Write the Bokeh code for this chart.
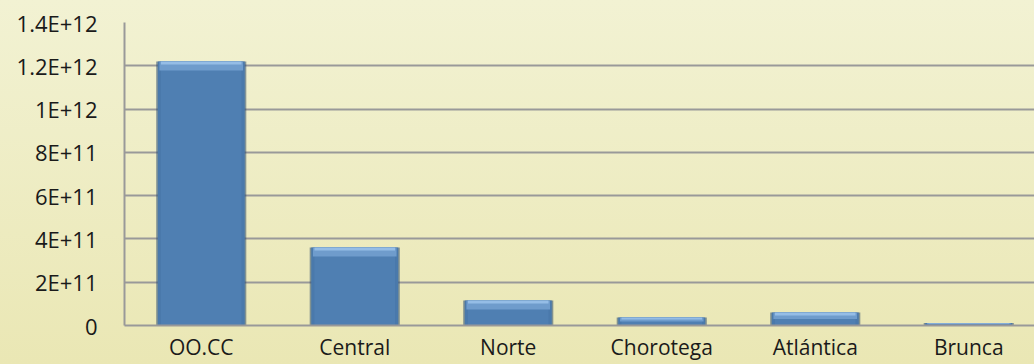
from bokeh.plotting import figure
from bokeh.models import Range1d, FixedTicker, ColumnDataSource
from bokeh.embed import file_html
from bokeh.resources import INLINE

categories = ["OO.CC", "Central", "Norte", "Chorotega", "Atlántica", "Brunca"]
values = [1.22e12, 3.6e11, 1.15e11, 3.7e10, 6.0e10, 1.2e10]
y_ticks = [0, 2e11, 4e11, 6e11, 8e11, 1e12, 1.2e12, 1.4e12]
y_tick_labels = ["0", "2E+11", "4E+11", "6E+11", "8E+11", "1E+12", "1.2E+12", "1.4E+12"]

W, H = 1034, 364
left, top, bottom = 124, 22, 39
step = 153.5
frame_h = H - top - bottom
frame_w = W - left
ymax = 1.4e12
px = ymax / frame_h  # data units per pixel

xs = list(range(len(categories)))
src = ColumnDataSource(dict(
    x=xs,
    top=values,
    hl_bottom=[max(v - 9 * px, v * 0.5) for v in values],
    hl2_bottom=[max(v - 3 * px, v * 0.75) for v in values],
))

p = figure(width=W, height=H, output_backend="svg", toolbar_location=None,
           x_range=Range1d(-0.5, -0.5 + frame_w / step), y_range=Range1d(0, ymax),
           min_border_left=left, min_border_right=0, min_border_top=top,
           min_border_bottom=bottom)
p.styles = {"background": "linear-gradient(#f2f2d3, #eae7b4)"}
p.background_fill_alpha = 0
p.border_fill_alpha = 0
p.outline_line_color = None

bw = 0.575
# shadow
p.vbar(x="x", top="top", bottom=0, width=bw + 0.012, source=src,
       fill_color="#2c4a6e", fill_alpha=0.55, line_color=None)
# body
p.vbar(x="x", top="top", bottom=0, width=bw - 0.008, source=src,
       fill_color="#4a79ab", line_color=None)
p.vbar(x="x", top="top", bottom=0, width=bw - 0.05, source=src,
       fill_color="#4f7fb2", line_color=None)
# top highlight
p.vbar(x="x", top="top", bottom="hl_bottom", width=bw - 0.03, source=src,
       fill_color="#6f9ccc", line_color=None)
p.vbar(x="x", top="top", bottom="hl2_bottom", width=bw - 0.05, source=src,
       fill_color="#95bde6", line_color=None)

p.xaxis.ticker = FixedTicker(ticks=xs)
p.xaxis.major_label_overrides = {i: c for i, c in enumerate(categories)}
p.yaxis.ticker = FixedTicker(ticks=y_ticks)
p.yaxis.major_label_overrides = {t: l for t, l in zip(y_ticks, y_tick_labels)}

for ax in (p.xaxis, p.yaxis):
    ax.axis_line_color = "#999999"
    ax.axis_line_width = 2
    ax.major_tick_line_color = None
    ax.major_tick_out = 0
    ax.major_tick_in = 0
    ax.minor_tick_line_color = None
    ax.minor_tick_out = 0
    ax.major_label_text_font = "Open Sans"
    ax.major_label_text_font_size = "21px"
    ax.major_label_text_color = "#1a1a1a"
p.yaxis.major_label_text_font_size = "22px"
p.yaxis.major_label_standoff = 27
p.xaxis.major_label_standoff = 7

p.xgrid.grid_line_color = None
p.ygrid.ticker = FixedTicker(ticks=y_ticks)
p.ygrid.grid_line_color = "#999999"
p.ygrid.grid_line_width = 2
p.ygrid.level = "underlay"

open("out.html", "w").write(file_html(p, INLINE))
